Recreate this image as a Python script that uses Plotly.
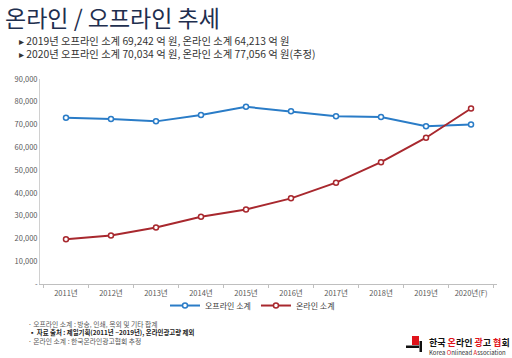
import plotly.graph_objects as go

years = ["2011년", "2012년", "2013년", "2014년", "2015년", "2016년", "2017년", "2018년", "2019년", "2020년(F)"]
offline = [73000, 72400, 71400, 74200, 77800, 75800, 73600, 73300, 69242, 70034]
online = [19600, 21300, 24800, 29500, 32700, 37600, 44500, 53500, 64213, 77056]
ytick_vals = [0, 10000, 20000, 30000, 40000, 50000, 60000, 70000, 80000, 90000]
ytick_text = ["-", "10,000", "20,000", "30,000", "40,000", "50,000", "60,000", "70,000", "80,000", "90,000"]

FONT = "Noto Sans CJK KR"
BLUE = "#2a7cc7"
RED = "#a8282e"

fig = go.Figure()
fig.add_trace(go.Scatter(x=years, y=offline, name="오프라인 소계", mode="lines+markers",
                         line=dict(color=BLUE, width=2),
                         marker=dict(symbol="circle", size=5, color="white", line=dict(color=BLUE, width=1.5))))
fig.add_trace(go.Scatter(x=years, y=online, name="온라인 소계", mode="lines+markers",
                         line=dict(color=RED, width=2),
                         marker=dict(symbol="circle", size=5, color="white", line=dict(color=RED, width=1.5))))

L, R, T, B = 40, 15, 79, 74
W, H = 512, 358

fig.update_layout(
    width=W, height=H,
    margin=dict(l=L, r=R, t=T, b=B, autoexpand=False),
    paper_bgcolor="white", plot_bgcolor="white",
    font=dict(family=FONT, size=8, color="#595959"),
    showlegend=True,
    legend=dict(orientation="h", x=0.465, xanchor="center", y=-0.105, yanchor="middle",
                bgcolor="rgba(0,0,0,0)",
                font=dict(size=8, color="#404040"), itemwidth=30, tracegroupgap=0),
    xaxis=dict(type="category", showline=True, linecolor="#bfbfbf", linewidth=1,
               ticks="outside", ticklen=3, tickcolor="#bfbfbf", tickson="boundaries",
               showgrid=False, tickfont=dict(size=7.5, color="#595959"), automargin=False,
               ticklabelstandoff=2),
    yaxis=dict(range=[0, 90000], tickvals=ytick_vals, ticktext=ytick_text,
               showline=True, linecolor="#d0d0d0", linewidth=1, showgrid=False,
               zeroline=False, ticks="", tickfont=dict(size=7.5, color="#595959"), automargin=False),
)

def px_x(x):
    return (x - L) / (W - L - R)

def px_y(y):
    return (H - B - y) / (H - T - B)

def text_px(text, x, y, size, color="#404040", anchor="left"):
    fig.add_annotation(text=text, x=px_x(x), y=px_y(y), xref="paper", yref="paper",
                       xanchor=anchor, yanchor="middle", align="left", showarrow=False,
                       font=dict(family=FONT, size=size, color=color))

text_px("온라인 / 오프라인 추세", 3, 17.5, 23, "#1f2f4f")
text_px("▸ 2019년 오프라인 소계 69,242 억 원, 온라인 소계 64,213 억 원<br>"
        "▸ 2020년 오프라인 소계 70,034 억 원, 온라인 소계 77,056 억 원(추정)", 17, 47, 10.3, "#333333")

text_px("· 오프라인 소계 : 방송, 인쇄, 옥외 및 기타 합계", 26, 323.5, 6.8, "#555555")
text_px("<b>▪ 자료 출처 : 제일기획(2011년 ~2019년), 온라인광고량 제외</b>", 27, 332, 6.4, "#222222")
text_px("· 온라인 소계 : 한국온라인광고협회 추정", 26, 340.5, 6.8, "#555555")

# logo
fig.add_shape(type="rect", x0=px_x(412), x1=px_x(419), y0=px_y(345), y1=px_y(336),
              xref="paper", yref="paper", fillcolor="#e0131b", line=dict(width=0))
fig.add_shape(type="rect", x0=px_x(406), x1=px_x(419), y0=px_y(348), y1=px_y(345.5),
              xref="paper", yref="paper", fillcolor="#111111", line=dict(width=0))
fig.add_shape(type="rect", x0=px_x(419.5), x1=px_x(422), y0=px_y(352), y1=px_y(341),
              xref="paper", yref="paper", fillcolor="#111111", line=dict(width=0))
text_px("<b>한국 <span style='color:#e0131b'>온</span>라인 <span style='color:#e0131b'>광</span>고 <span style='color:#e0131b'>협</span>회</b>",
        427, 342, 9, "#111111")
text_px("Korea <span style='color:#e0131b'>O</span>nlinead <span style='color:#e0131b'>A</span>ssociation", 427, 352, 6, "#333333")

fig.write_html("out.html", config={"displayModeBar": False},
               post_script="document.body.style.margin='0';document.body.style.overflow='hidden';")
